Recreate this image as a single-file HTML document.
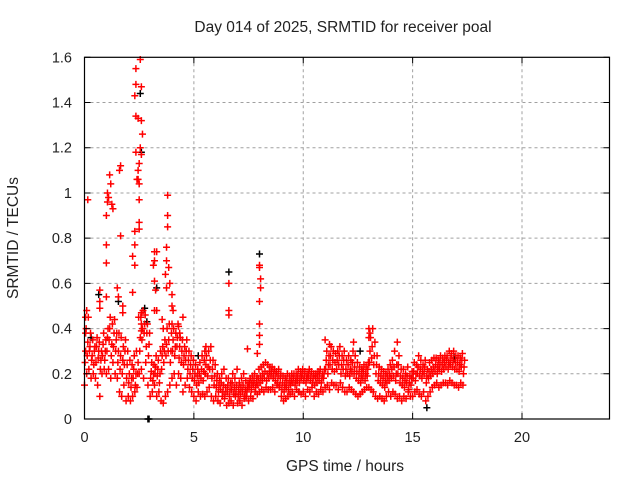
<!DOCTYPE html>
<html><head><meta charset="utf-8"><style>
html,body{margin:0;padding:0;background:#fff;}
svg{display:block;font-family:"Liberation Sans",sans-serif;}
</style></head><body>
<svg id="chart" width="640" height="480" viewBox="0 0 640 480" xmlns="http://www.w3.org/2000/svg">
<rect width="640" height="480" fill="#fff"/>
<text x="343" y="32" font-size="15.5" text-anchor="middle" fill="#222">Day 014 of 2025, SRMTID for receiver poal</text>
<text x="345" y="471" font-size="15.5" text-anchor="middle" fill="#222">GPS time / hours</text>
<text x="0" y="0" font-size="15.5" text-anchor="middle" fill="#222" transform="translate(18,238) rotate(-90)">SRMTID / TECUs</text>
<g id="grid"></g>
<g id="black-series"></g>
<g id="red-series"></g>
<g id="axes"></g>
</svg>
<script>
const xTicks=[0,5,10,15,20];
const yTicks=[0,0.2,0.4,0.6,0.8,1,1.2,1.4,1.6];
const yTickLabels=["0","0.2","0.4","0.6","0.8","1","1.2","1.4","1.6"];
const tStart=0, tStep=0.1;
const lo=[.15,.2,.22,.18,.2,.18,.15,.1,.2,.22,.2,.22,.18,.25,.2,.18,.12,.1,.15,.08,.1,.08,.1,.12,.14,.2,.22,.18,.25,.15,.1,.12,.15,.1,.12,.08,.07,.1,.12,.15,.18,.2,.15,.2,.18,.12,.15,.18,.14,.12,.1,.08,.12,.1,.11,.1,.12,.14,.1,.08,.1,.08,.07,.1,.09,.06,.07,.08,.06,.1,.07,.08,.06,.09,.1,.08,.1,.09,.12,.11,.12,.13,.12,.14,.13,.13,.14,.12,.15,.14,.1,.08,.09,.1,.11,.12,.1,.13,.12,.11,.12,.1,.13,.12,.14,.1,.12,.11,.13,.12,.14,.15,.13,.16,.15,.15,.13,.16,.14,.12,.12,.14,.13,.12,.11,.1,.11,.12,.13,.14,.14,.13,.12,.1,.09,.1,.09,.08,.1,.12,.1,.12,.11,.09,.1,.08,.1,.09,.12,.1,.1,.12,.13,.11,.1,.12,.08,.1,.12,.14,.15,.16,.14,.15,.16,.16,.15,.17,.16,.15,.15,.14,.16,.15];
const m1=[.25,.28,.3,.26,.24,.25,.27,.22,.28,.26,.3,.35,.28,.32,.3,.25,.22,.2,.24,.18,.16,.14,.18,.15,.2,.3,.35,.38,.32,.28,.18,.17,.2,.19,.16,.22,.25,.28,.3,.25,.3,.28,.32,.27,.25,.24,.26,.22,.2,.18,.17,.15,.16,.18,.17,.2,.19,.22,.18,.15,.14,.12,.13,.12,.11,.12,.1,.13,.11,.12,.1,.11,.12,.1,.12,.14,.13,.15,.14,.15,.16,.17,.18,.17,.18,.19,.18,.17,.16,.15,.13,.12,.14,.13,.15,.16,.15,.17,.16,.18,.17,.16,.18,.17,.16,.15,.16,.17,.16,.18,.22,.2,.24,.22,.21,.22,.24,.2,.22,.19,.2,.19,.21,.2,.18,.17,.16,.18,.17,.19,.25,.27,.24,.2,.17,.16,.15,.14,.16,.17,.18,.19,.17,.2,.16,.15,.14,.16,.13,.15,.18,.17,.2,.19,.18,.2,.16,.18,.19,.2,.21,.2,.22,.21,.22,.23,.22,.24,.23,.22,.22,.21,.23,.2];
const m2=[.3,.34,.32,.28,.3,.32,.3,.26,.33,.3,.36,.4,.33,.38,.35,.3,.28,.26,.3,.24,.2,.18,.22,.2,.25,.36,.4,.42,.38,.33,.21,.2,.23,.22,.2,.28,.3,.33,.35,.3,.35,.32,.36,.32,.3,.28,.3,.26,.24,.22,.2,.19,.2,.22,.21,.24,.23,.26,.22,.19,.17,.15,.16,.15,.14,.15,.13,.16,.14,.15,.13,.14,.15,.13,.14,.16,.16,.17,.16,.18,.19,.2,.21,.2,.21,.21,.2,.2,.19,.18,.16,.15,.17,.16,.17,.18,.17,.19,.18,.2,.19,.18,.2,.19,.18,.18,.19,.2,.18,.2,.26,.24,.28,.26,.25,.26,.28,.24,.26,.22,.24,.22,.25,.23,.21,.2,.19,.21,.2,.22,.3,.32,.28,.24,.2,.19,.18,.17,.19,.2,.22,.23,.2,.24,.19,.18,.17,.19,.16,.18,.21,.2,.23,.22,.21,.23,.19,.21,.22,.23,.24,.23,.25,.24,.25,.26,.25,.27,.26,.25,.25,.24,.26,.23];
const hi=[.4,.45,.38,.35,.32,.36,.34,.3,.38,.35,.4,.45,.42,.44,.38,.38,.36,.32,.35,.3,.26,.24,.28,.3,.45,.45,.48,.46,.42,.38,.25,.24,.28,.26,.3,.32,.35,.4,.42,.38,.4,.38,.42,.36,.35,.32,.35,.3,.28,.26,.24,.22,.25,.28,.26,.28,.3,.32,.26,.24,.2,.18,.2,.22,.18,.18,.16,.2,.18,.22,.16,.18,.2,.17,.16,.18,.19,.2,.18,.22,.23,.24,.25,.24,.23,.23,.22,.21,.22,.2,.19,.18,.2,.19,.2,.2,.2,.22,.21,.22,.21,.2,.22,.21,.2,.2,.21,.22,.2,.22,.3,.28,.32,.3,.29,.3,.32,.28,.3,.26,.28,.26,.3,.28,.25,.23,.22,.24,.23,.25,.36,.4,.34,.28,.23,.22,.21,.2,.22,.24,.26,.3,.24,.28,.22,.22,.2,.23,.19,.21,.25,.24,.28,.26,.24,.26,.22,.25,.26,.27,.27,.26,.28,.27,.28,.28,.3,.29,.3,.28,.28,.27,.29,.26];
const redOutT=[0.15,1.0,1.0,1.0,1.05,1.05,1.1,1.15,1.2,1.25,1.3,1.6,1.65,1.65,1.5,1.55,2.2,2.2,2.3,2.3,2.3,2.35,2.3,2.35,2.35,2.35,2.45,2.45,2.45,2.5,2.5,2.5,2.55,2.55,2.6,2.6,2.65,2.6,2.5,2.4,2.5,2.6,2.6,3.2,3.15,3.2,3.25,3.2,3.3,3.8,3.8,3.8,3.75,3.75,3.7,3.85,3.9,3.75,4.0,4.0,4.05,3.2,3.3,4.5,6.6,6.6,6.6,8.0,8.0,8.05,8.05,8.0,8.0,8.0,8.0,0.7,0.7,0.7,1.0,0.1,0.05,0.05,1.75,1.75,2.6,3.6,3.55,4.3,4.35,4.0,5.5,5.55,7.45,7.9,13.0,13.05,13.0,11.0,11.2,14.3,12.3];
const redOutV=[0.97,0.9,0.77,0.69,0.96,1.0,0.98,1.08,1.04,0.95,0.93,1.1,1.12,0.81,0.58,0.54,0.56,0.72,0.77,0.68,0.83,1.18,1.43,1.55,1.48,1.34,1.33,1.1,1.06,1.04,0.97,0.87,1.2,1.59,1.47,1.32,1.26,1.17,1.13,1.06,0.84,0.47,0.42,0.74,0.68,0.61,0.57,0.7,0.74,0.99,0.9,0.85,0.76,0.7,0.64,0.67,0.6,0.58,0.55,0.5,0.48,0.48,0.48,0.45,0.6,0.48,0.46,0.68,0.67,0.62,0.58,0.52,0.42,0.37,0.33,0.57,0.52,0.49,0.54,0.48,0.45,0.38,0.5,0.47,0.39,0.4,0.44,0.41,0.38,0.42,0.3,0.32,0.31,0.29,0.4,0.38,0.36,0.35,0.33,0.34,0.34];
const blackT=[2.9,2.95,6.6,8.0,2.55,2.6,0.65,2.75,2.85,15.65,3.3,1.55,0.3,5.2,9.8,12.6,16.9];
const blackV=[0,0,0.65,0.73,1.44,1.18,0.55,0.49,0.43,0.05,0.58,0.52,0.36,0.28,0.12,0.3,0.27];

const L=84.5,R=609.5,T=57.3,B=419;
const xs=v=>L+(v/24)*(R-L);
const ys=v=>B-(v/1.6)*(B-T);
const NS="http://www.w3.org/2000/svg";
function mk(tag,attrs,parent){const e=document.createElementNS(NS,tag);for(const k in attrs)e.setAttribute(k,attrs[k]);parent.appendChild(e);return e;}
const grid=document.getElementById('grid'),axes=document.getElementById('axes');
xTicks.forEach((t,i)=>{
  const x=xs(t);
  if(t>0){const g=mk('line',{x1:x,x2:x,y1:T,y2:B,stroke:'#a0a0a0','stroke-dasharray':'3,3','stroke-width':1},grid);
  
  }
  const tk=mk('path',{d:`M${x},${B}v-6M${x},${T}v6`,stroke:'#000','stroke-width':1,fill:'none'},axes);
  
  
  const lb=mk('text',{x:x,y:442,'font-size':14.5,'text-anchor':'middle',fill:'#222'},axes);
  lb.textContent=String(t);
  
  
});
yTicks.forEach((v,i)=>{
  const y=ys(v);
  if(v>0&&v<1.6){const g=mk('line',{x1:L,x2:R,y1:y,y2:y,stroke:'#a0a0a0','stroke-dasharray':'3,3','stroke-width':1},grid);
  
  }
  const tk=mk('path',{d:`M${L},${y}h6M${R},${y}h-6`,stroke:'#000','stroke-width':1,fill:'none'},axes);
  
  
  const lb=mk('text',{x:72,y:y+5,'font-size':14.5,'text-anchor':'end',fill:'#222'},axes);
  lb.textContent=yTickLabels[i];
  
  
});
const frame=mk('rect',{x:L,y:T,width:R-L,height:B-T,fill:'none',stroke:'#000','stroke-width':1.2},axes);



function plus(parent,t,v,color){
  const x=xs(t),y=ys(v);
  const p=mk('path',{d:`M${x-3.5},${y}h7M${x},${y-3.5}v7`,stroke:color,'stroke-width':1.5,fill:'none'},parent);
  
  
}
const bl=document.getElementById('black-series'),rd=document.getElementById('red-series');
blackT.forEach((t,i)=>plus(bl,t,blackV[i],'#000'));
[lo,m1,m2,hi].forEach((arr,k)=>arr.forEach((v,i)=>plus(rd,tStart+i*tStep+k*0.025,v,'#f00')));
redOutT.forEach((t,i)=>plus(rd,t,redOutV[i],'#f00'));
</script>
</body></html>
